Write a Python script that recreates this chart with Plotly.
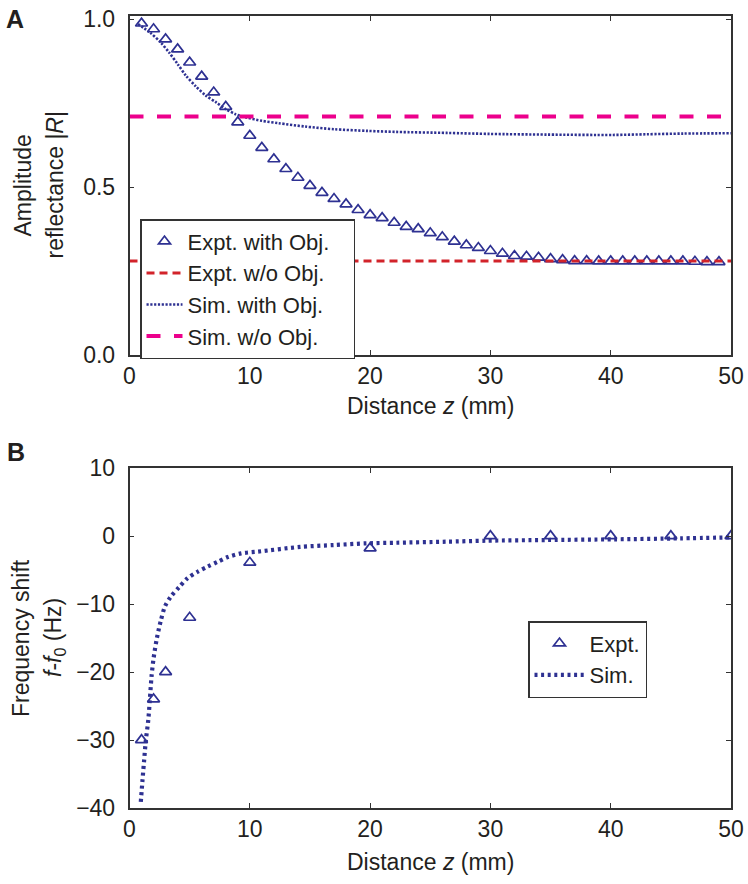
import plotly.graph_objects as go

W, H = 748, 884

# ---------------- Panel A data ----------------
expt_obj_z = list(range(1, 50))
expt_obj_R = [0.987, 0.970, 0.940, 0.910, 0.871, 0.829, 0.782, 0.739, 0.693, 0.653,
              0.617, 0.583, 0.554, 0.528, 0.504, 0.483, 0.465, 0.449, 0.432, 0.417,
              0.408, 0.394, 0.382, 0.375, 0.363, 0.351, 0.338, 0.327, 0.319, 0.310,
              0.302, 0.295, 0.293, 0.290, 0.286, 0.283, 0.280, 0.280, 0.279, 0.279,
              0.279, 0.279, 0.279, 0.279, 0.279, 0.279, 0.278, 0.277, 0.277]

expt_noobj_z = [0, 50]
expt_noobj_R = [0.28, 0.28]

sim_obj_z = [0.7, 1.7, 2.6, 3.3, 4.0, 4.7, 5.5, 6.35, 7.2, 8.0, 8.8, 9.7, 11.0, 12.4,
             14.6, 17, 19.8, 22.2, 26.4, 30, 34.7, 40.2, 43, 46, 50]
sim_obj_R = [0.985, 0.960, 0.930, 0.900, 0.866, 0.831, 0.800, 0.772, 0.752, 0.732,
             0.717, 0.707, 0.697, 0.690, 0.680, 0.672, 0.667, 0.664, 0.661, 0.658,
             0.656, 0.655, 0.657, 0.659, 0.660]

sim_noobj_z = [0, 50]
sim_noobj_R = [0.71, 0.71]

# ---------------- Panel B data ----------------
shift_expt_z = [1, 2, 3, 5, 10, 20, 30, 35, 40, 45, 50]
shift_expt = [-30, -24, -20, -12, -3.9, -1.8, 0, 0, 0, 0, 0]

shift_sim_z = [0.94, 1.08, 1.22, 1.36, 1.56, 1.69, 1.83, 2.0, 2.28, 2.61, 2.94, 3.44,
               4.14, 4.83, 5.67, 6.5, 7.33, 8.17, 9.28, 10.67, 14.2, 17, 19.7, 22.2,
               26.3, 29.7, 34.7, 40.3, 45.8, 50]
shift_sim = [-39.1, -35.9, -32.9, -30.0, -27.1, -24.1, -20.7, -18.0, -15.0, -12.4,
             -10.4, -8.9, -7.5, -6.2, -5.25, -4.5, -3.8, -3.1, -2.55, -2.3,
             -1.6, -1.33, -1.08, -0.99, -0.84, -0.69, -0.59, -0.49, -0.35, -0.2]

x_ticks = [0, 10, 20, 30, 40, 50]
yA_ticks = [0.0, 0.5, 1.0]
yB_ticks = [-40, -30, -20, -10, 0, 10]

BLUE = "#2E3192"
RED = "#D2232A"
PINK = "#EC008C"
INK = "#231F20"
FONT = "Liberation Sans, Arial, sans-serif"
PAD = "\u00a0\u00a0\u00a0"


def px_x(p):
    return p / W


def px_y(p):
    return 1 - p / H


fig = go.Figure()

# Panel A
fig.add_trace(go.Scatter(x=expt_obj_z, y=expt_obj_R, mode="markers", name="Expt. with Obj." + PAD,
                         marker=dict(symbol="triangle-up-open", size=10.5, color=BLUE,
                                     line=dict(width=1.7, color=BLUE)),
                         xaxis="x", yaxis="y", legend="legend"))
fig.add_trace(go.Scatter(x=expt_noobj_z, y=expt_noobj_R, mode="lines", name="Expt. w/o Obj.",
                         line=dict(color=RED, width=3, dash="8px,5px"),
                         xaxis="x", yaxis="y", legend="legend"))
fig.add_trace(go.Scatter(x=sim_obj_z, y=sim_obj_R, mode="lines", name="Sim. with Obj.",
                         line=dict(color=BLUE, width=2.6, dash="2.2px,1.6px", shape="spline", smoothing=0.8),
                         xaxis="x", yaxis="y", legend="legend"))
fig.add_trace(go.Scatter(x=sim_noobj_z, y=sim_noobj_R, mode="lines", name="Sim. w/o Obj.",
                         line=dict(color=PINK, width=4, dash="14px,13.5px"),
                         xaxis="x", yaxis="y", legend="legend"))

# Panel B
fig.add_trace(go.Scatter(x=shift_expt_z, y=shift_expt, mode="markers", name="Expt.",
                         marker=dict(symbol="triangle-up-open", size=10.5, color=BLUE,
                                     line=dict(width=1.7, color=BLUE)),
                         xaxis="x2", yaxis="y2", legend="legend2"))
fig.add_trace(go.Scatter(x=shift_sim_z, y=shift_sim, mode="lines", name="Sim.",
                         line=dict(color=BLUE, width=4.2, dash="3px,3.6px", shape="spline", smoothing=0.8),
                         xaxis="x2", yaxis="y2", legend="legend2"))

xdom = [px_x(129.5), px_x(731)]
axis_common = dict(showline=True, linecolor="#333333", linewidth=1.5, mirror="ticks",
                   ticks="inside", ticklen=5, tickwidth=1.3, tickcolor="#333333",
                   showgrid=False, zeroline=False,
                   tickfont=dict(family=FONT, size=23, color=INK))

fig.update_layout(
    width=W, height=H,
    margin=dict(l=0, r=0, t=0, b=0, autoexpand=False),
    paper_bgcolor="white", plot_bgcolor="white",
    font=dict(family=FONT, size=23, color=INK),
    xaxis=dict(domain=xdom, range=[0, 50], tickvals=x_ticks, anchor="y", **axis_common),
    yaxis=dict(domain=[px_y(355), px_y(16)], range=[0, 1.009], tickvals=yA_ticks,
               tickformat=".1f", anchor="x", ticklabelstandoff=8, **axis_common),
    xaxis2=dict(domain=xdom, range=[0, 50], tickvals=x_ticks, anchor="y2", **axis_common),
    yaxis2=dict(domain=[px_y(808), px_y(468)], range=[-40, 10], tickvals=yB_ticks,
                anchor="x2", ticklabelstandoff=8, **axis_common),
    legend=dict(x=px_x(140), y=px_y(219), xanchor="left", yanchor="top",
                bgcolor="white", bordercolor="#333333", borderwidth=1.5,
                font=dict(family=FONT, size=22, color=INK), itemwidth=36,
                tracegroupgap=0),
    legend2=dict(x=px_x(528), y=px_y(621), xanchor="left", yanchor="top",
                 bgcolor="white", bordercolor="#333333", borderwidth=1.5,
                 font=dict(family=FONT, size=22, color=INK), itemwidth=50,
                 tracegroupgap=0),
    showlegend=True,
)

ann = []
ann.append(dict(text="<b>A</b>", x=px_x(15), y=px_y(18.5), xref="paper", yref="paper",
                showarrow=False, font=dict(size=25, family=FONT, color=INK),
                xanchor="center", yanchor="middle"))
ann.append(dict(text="<b>B</b>", x=px_x(16), y=px_y(452), xref="paper", yref="paper",
                showarrow=False, font=dict(size=25, family=FONT, color=INK),
                xanchor="center", yanchor="middle"))
ycA = (16 + 355) / 2
ycB = (468 + 808) / 2
for txt, xc, yc in [("Amplitude", 22, ycA), ("reflectance |<i>R</i>|", 54, ycA),
                    ("Frequency shift", 21, ycB), ("<i>f</i>-<i>f</i><sub>0</sub> (Hz)", 54, ycB)]:
    ann.append(dict(text=txt, x=px_x(xc), y=px_y(yc), xref="paper", yref="paper",
                    showarrow=False, textangle=-90, font=dict(size=23, family=FONT, color=INK),
                    xanchor="center", yanchor="middle"))
for yc in [406, 862]:
    ann.append(dict(text="Distance <i>z</i> (mm)", x=px_x(430), y=px_y(yc), xref="paper",
                    yref="paper", showarrow=False, font=dict(size=23, family=FONT, color=INK),
                    xanchor="center", yanchor="middle"))
fig.update_layout(annotations=ann)

fig.write_html("out.html")
